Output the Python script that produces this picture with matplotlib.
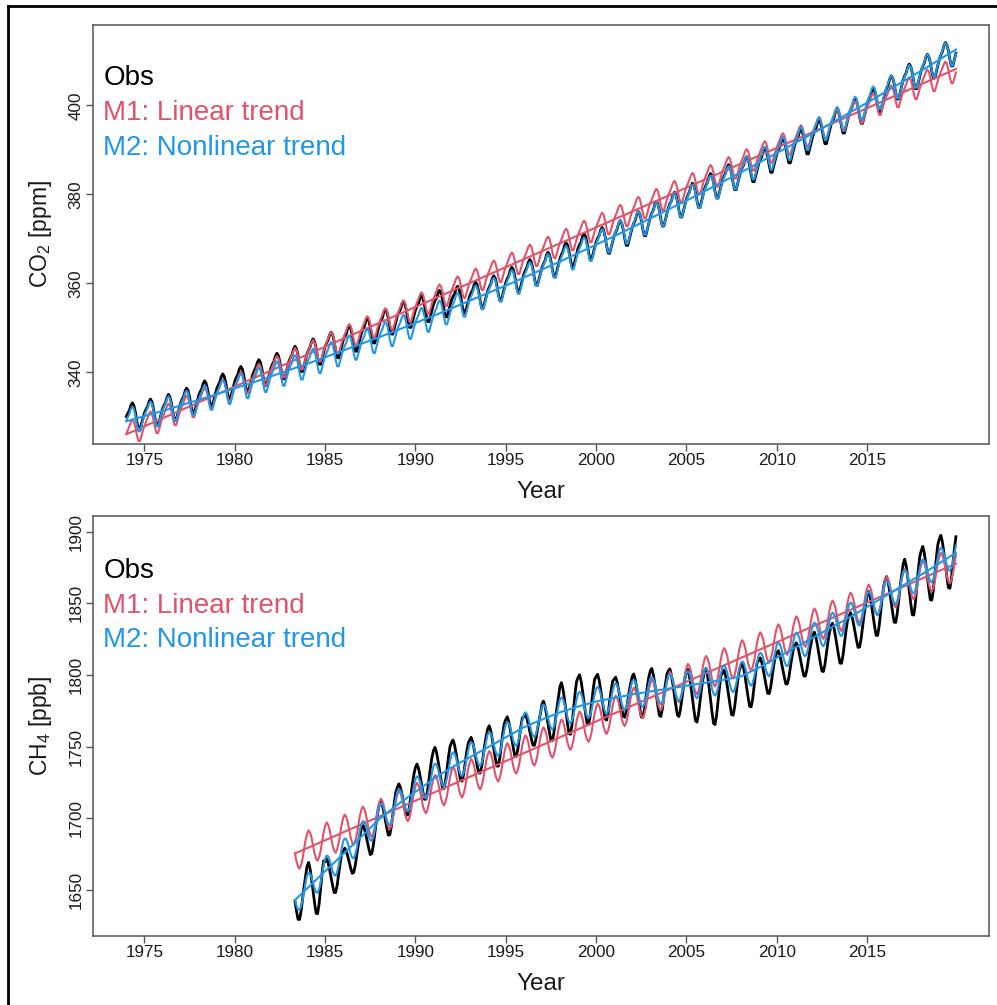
import numpy as np
import matplotlib.pyplot as plt
from matplotlib.lines import Line2D

plt.rcParams['font.family'] = ['Liberation Sans', 'DejaVu Sans']
plt.rcParams['mathtext.fontset'] = 'custom'
plt.rcParams['mathtext.rm'] = 'Liberation Sans'

RED = '#DF536B'
BLUE = '#2297E6'

# ---- CO2 (monthly, Jan 1974 - Dec 2019) ----
# deseasonalised level on 1 January of each year, 1974..2020
CO2_KNOTS = list(range(1974, 2021))
CO2_OBS_LEVEL = [329.9, 330.7, 331.6, 332.9, 334.6, 336.1, 337.8, 339.4, 340.8, 342.3,
                 344.0, 345.6, 347.0, 348.5, 350.5, 352.5, 353.8, 355.1, 356.1, 356.9,
                 358.1, 360.0, 361.9, 363.3, 365.4, 367.7, 369.1, 370.5, 372.4, 374.7,
                 376.8, 378.8, 381.0, 383.1, 384.9, 386.7, 388.9, 391.0, 393.0, 395.4,
                 397.8, 399.9, 402.7, 405.6, 407.7, 410.2, 413.0]
# monthly offsets Jan..Dec
CO2_OBS_CYCLE = [0.2, 0.9, 1.4, 2.5, 3.0, 2.3, 0.7, -1.5, -3.2, -3.4, -2.2, -1.0]

# M1: straight line
CO2_M1_KNOTS = [1974, 2020]
CO2_M1_LEVEL = [326.1, 408.35]
CO2_M1_CYCLE = [0.1, 0.8, 1.5, 2.3, 2.7, 2.1, 0.6, -1.3, -2.7, -2.9, -1.9, -0.8]

# M2: smooth curved trend, same yearly knots as the observations
CO2_M2_LEVEL = [329.0, 330.2, 331.3, 332.6, 333.8, 335.1, 336.4, 337.7, 339.1, 340.5,
                341.9, 343.4, 344.9, 346.4, 347.9, 349.5, 351.1, 352.7, 354.4, 356.1,
                357.8, 359.5, 361.3, 363.1, 364.9, 366.8, 368.7, 370.6, 372.6, 374.6,
                376.6, 378.6, 380.7, 382.8, 384.9, 387.1, 389.3, 391.5, 393.7, 396.0,
                398.3, 400.6, 403.0, 405.4, 407.8, 410.3, 412.8]
CO2_M2_CYCLE = [0.2, 0.9, 1.5, 2.5, 2.9, 2.3, 0.7, -1.4, -3.0, -3.2, -2.1, -0.9]

# ---- CH4 (monthly, May 1983 - Dec 2019) ----
CH4_KNOTS = list(range(1983, 2021))
CH4_OBS_LEVEL = [1641, 1648.5, 1657, 1666, 1680, 1696, 1709, 1722, 1733, 1739.5,
                 1742, 1748, 1755.5, 1760, 1765, 1774, 1782, 1784.5, 1784.5, 1784.5,
                 1787.5, 1788.5, 1786, 1784.5, 1786, 1791, 1797.5, 1803.5, 1809, 1814.5,
                 1819.5, 1827.5, 1839.5, 1850, 1858, 1868, 1877, 1883]
# half peak-to-trough range for each year 1983..2019
CH4_OBS_AMP = [16, 20, 14, 12, 14, 15, 14, 15, 16, 15,
               14, 16, 15, 12, 16, 20, 18, 16, 14, 16,
               17, 16, 18, 20, 17, 17, 14, 13, 13, 15,
               16, 15, 18, 18, 22, 21, 20]
CH4_OBS_SHAPE = [0.9, 1.0, 0.75, 0.35, -0.1, -0.55, -0.95, -1.0, -0.7, -0.2, 0.3, 0.7]

CH4_M1_KNOTS = [1983, 2020]
CH4_M1_LEVEL = [1673.6, 1878.2]
CH4_M1_CYCLE = [10, 12, 10, 6, 0, -6, -10, -12, -10, -6, 0, 6]

CH4_M2_LEVEL = [1639, 1651, 1663, 1675, 1687, 1699.5, 1709.5, 1718.5, 1727.5, 1735.5,
                1742.5, 1749.5, 1756.5, 1763.5, 1769, 1774, 1778, 1781.5, 1784, 1786.5,
                1788.5, 1790.5, 1792.5, 1794.5, 1796.5, 1799, 1805, 1812, 1819, 1826,
                1833, 1840, 1847.5, 1855, 1862.5, 1870, 1878, 1886]
CH4_M2_CYCLE = [9, 10, 8.5, 5, 0, -5, -8.5, -10, -8.5, -5, 0, 5]

LEGEND = ['Obs', 'M1: Linear trend', 'M2: Nonlinear trend']


def month_grid(first_year, last_year, first_month=0):
    years = np.repeat(np.arange(first_year, last_year + 1), 12)
    months = np.tile(np.arange(12), last_year - first_year + 1)
    t = years + months / 12
    return t[first_month:], months[first_month:], years[first_month:]


def draw_panel(ax, t, obs, fits, ylim, yticks, ylabel, legend_y):
    ax.plot(t, obs, color='black', lw=2.0, zorder=3)
    for color, trend, full in fits:
        ax.plot(t, full, color=color, lw=1.5, zorder=4)
        ax.plot(t, trend, color=color, lw=1.5, zorder=4)

    ax.set_xlim(1972.17, 2021.75)
    ax.set_ylim(*ylim)
    ax.set_xticks(range(1975, 2020, 5))
    ax.set_yticks(yticks)
    ax.tick_params(length=5, width=1.0, color='#555555', labelsize=12.3,
                   labelcolor='#1a1a1a')
    ax.tick_params(axis='x', pad=1.2)
    ax.tick_params(axis='y', pad=2.0, labelrotation=90)
    for lbl in ax.get_yticklabels():
        lbl.set_va('center')
    for sp in ax.spines.values():
        sp.set_color('#555555')
        sp.set_linewidth(1.1)

    ax.set_xlabel('Year', fontsize=17.5, color='#1a1a1a')
    ax.xaxis.set_label_coords(0.5, -0.089)
    ax.set_ylabel(ylabel, fontsize=16.5, color='#1a1a1a')
    ax.yaxis.set_label_coords(-0.044, 0.5)

    for text, color, y in zip(LEGEND, ['black', RED, BLUE], legend_y):
        ax.text(0.011, y, text, color=color, fontsize=20, va='baseline',
                ha='left', transform=ax.transAxes)


fig = plt.figure(figsize=(9.97, 10.05), dpi=100)
ax1 = fig.add_axes([0.0936, 0.5582, 0.8984, 0.4174])
ax2 = fig.add_axes([0.0936, 0.0687, 0.8984, 0.4182])

# CO2 panel
t, mon, yr = month_grid(1974, 2019)
obs = np.interp(t, CO2_KNOTS, CO2_OBS_LEVEL) + np.array(CO2_OBS_CYCLE)[mon]
m1_trend = np.interp(t, CO2_M1_KNOTS, CO2_M1_LEVEL)
m2_trend = np.interp(t, CO2_KNOTS, CO2_M2_LEVEL)
fits = [(RED, m1_trend, m1_trend + np.array(CO2_M1_CYCLE)[mon]),
        (BLUE, m2_trend, m2_trend + np.array(CO2_M2_CYCLE)[mon])]
draw_panel(ax1, t, obs, fits, (323.9, 418.2), [340, 360, 380, 400],
           r'CO$_\mathregular{2}$ [ppm]', [0.8558, 0.7724, 0.6889])

# CH4 panel
t, mon, yr = month_grid(1983, 2019, first_month=4)
amp = np.array(CH4_OBS_AMP)[yr - 1983]
obs = np.interp(t, CH4_KNOTS, CH4_OBS_LEVEL) + amp * np.array(CH4_OBS_SHAPE)[mon]
m1_trend = np.interp(t, CH4_M1_KNOTS, CH4_M1_LEVEL)
m2_trend = np.interp(t, CH4_KNOTS, CH4_M2_LEVEL)
fits = [(RED, m1_trend, m1_trend + np.array(CH4_M1_CYCLE)[mon]),
        (BLUE, m2_trend, m2_trend + np.array(CH4_M2_CYCLE)[mon])]
draw_panel(ax2, t, obs, fits, (1617.9, 1911.2), [1650, 1700, 1750, 1800, 1850, 1900],
           r'CH$_\mathregular{4}$ [ppb]', [0.851, 0.7678, 0.6883])

# frame on the top and left edges
fig.add_artist(Line2D([0.0085, 1.0], [0.9945, 0.9945], color='black', lw=2.0))
fig.add_artist(Line2D([0.0085, 0.0085], [0.0, 0.9945], color='black', lw=2.0))

fig.savefig('out.png', dpi=100)
